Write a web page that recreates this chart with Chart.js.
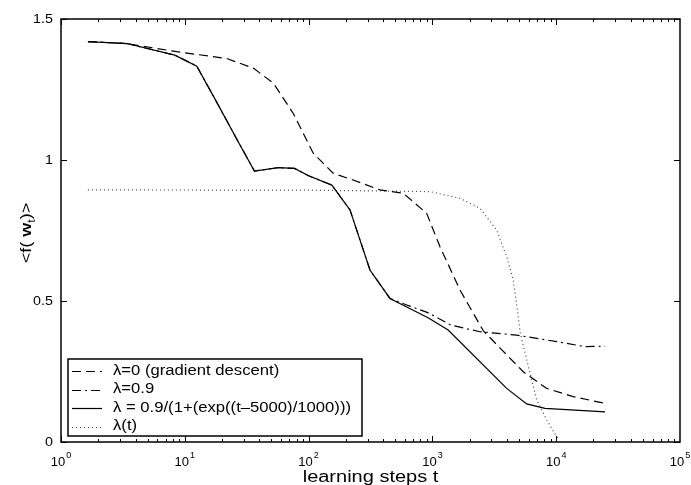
<!DOCTYPE html>
<html lang="en">
<head>
  <meta charset="UTF-8" />
  <title>Learning curves</title>
  <script src="https://cdn.jsdelivr.net/npm/chart.js"></script>
  <style>
    body { margin: 0; background: #fff; }
    canvas { display: block; }
  </style>
</head>
<body>
  <canvas id="curveChart" width="691" height="485"></canvas>

  <script>
    // values (x = learning steps t, y = <f(w_t)>)
    const tGradient = [1.65, 3.4, 8.6, 21.8, 36, 52, 75, 109, 158, 229, 377, 582, 898, 1150, 1670, 2580, 5420, 8380, 13700, 24800];
    const fGradient = [1.42, 1.413, 1.384, 1.36, 1.325, 1.272, 1.166, 1.024, 0.953, 0.929, 0.894, 0.882, 0.811, 0.693, 0.539, 0.394, 0.249, 0.19, 0.161, 0.137];

    const tMomentum = [1.65, 3.4, 8.3, 12.5, 18, 27, 36.5, 57, 77, 100, 154, 216, 313, 454, 620, 930, 1400, 2420, 4800, 10100, 17100, 24800];
    const fMomentum = [1.42, 1.413, 1.372, 1.333, 1.207, 1.065, 0.961, 0.973, 0.970, 0.944, 0.911, 0.823, 0.61, 0.509, 0.486, 0.458, 0.415, 0.391, 0.379, 0.356, 0.338, 0.340];

    const tSchedule = [1.65, 3.4, 8.3, 12.5, 18, 27, 36.5, 57, 77, 100, 154, 216, 313, 454, 930, 1340, 3980, 5780, 8120, 24800];
    const fSchedule = [1.42, 1.413, 1.372, 1.333, 1.207, 1.065, 0.961, 0.973, 0.970, 0.944, 0.911, 0.823, 0.61, 0.509, 0.44, 0.397, 0.19, 0.135, 0.119, 0.107];

    const tLambda = [1.65, 100, 955, 1670, 2420, 3300, 3980, 4500, 4940, 5100, 5960, 6960, 8380, 10100, 10600];
    const fLambda = [0.894, 0.893, 0.888, 0.864, 0.829, 0.752, 0.657, 0.574, 0.444, 0.391, 0.267, 0.149, 0.078, 0.019, 0.008];

    const legendLabels = [
      'λ=0 (gradient descent)',
      'λ=0.9',
      'λ = 0.9/(1+(exp((t–5000)/1000)))',
      'λ(t)'
    ];

    const xTickValues = [1, 10, 100, 1000, 10000, 100000];
    const xTickExponents = ['0', '1', '2', '3', '4', '5'];
    const yTickValues = [0, 0.5, 1, 1.5];
    const yTickLabels = ['0', '0.5', '1', '1.5'];

    const FONT = '"Liberation Sans", Arial, Helvetica, sans-serif';

    const toPoints = (ts, fs) => ts.map((t, i) => ({ x: t, y: fs[i] }));

    // text in the original is a bit wider than the font, so stretch it
    function drawText(ctx, text, x, y, sx, align) {
      ctx.save();
      ctx.translate(x, y);
      ctx.scale(sx, 1);
      ctx.textAlign = align;
      ctx.fillText(text, 0, 0);
      ctx.restore();
    }

    const framePlugin = {
      id: 'frame',
      afterDraw(chart) {
        const { ctx, chartArea: a, scales: { x, y } } = chart;
        ctx.save();
        ctx.strokeStyle = '#000';
        ctx.fillStyle = '#000';
        ctx.setLineDash([]);

        // axis box
        ctx.lineWidth = 1.5;
        ctx.strokeRect(a.left, a.top, a.right - a.left, a.bottom - a.top);

        // x ticks (log major + minor), inward on top and bottom
        ctx.lineWidth = 1;
        ctx.beginPath();
        for (let k = 0; k < 5; k++) {
          for (let m = 1; m <= 9; m++) {
            const px = Math.round(x.getPixelForValue(m * Math.pow(10, k))) + 0.5;
            const len = m === 1 ? 6 : 3;
            ctx.moveTo(px, a.bottom); ctx.lineTo(px, a.bottom - len);
            ctx.moveTo(px, a.top); ctx.lineTo(px, a.top + len);
          }
        }
        // y ticks, inward on left and right
        yTickValues.forEach(v => {
          const py = Math.round(y.getPixelForValue(v)) + 0.5;
          ctx.moveTo(a.left, py); ctx.lineTo(a.left + 6, py);
          ctx.moveTo(a.right, py); ctx.lineTo(a.right - 6, py);
        });
        ctx.stroke();

        // y tick labels
        ctx.font = '13px ' + FONT;
        ctx.textBaseline = 'middle';
        yTickValues.forEach((v, i) => {
          drawText(ctx, yTickLabels[i], a.left - 8, y.getPixelForValue(v), 1.1, 'right');
        });

        // x tick labels: 10 with a raised exponent
        ctx.textBaseline = 'alphabetic';
        xTickValues.forEach((v, i) => {
          const px = x.getPixelForValue(v);
          ctx.font = '13px ' + FONT;
          const wBase = ctx.measureText('10').width;
          ctx.font = '9px ' + FONT;
          const wExp = ctx.measureText(xTickExponents[i]).width;
          const left = px - (wBase + wExp + 1) / 2;
          ctx.font = '13px ' + FONT;
          ctx.textAlign = 'left';
          ctx.fillText('10', left, a.bottom + 24);
          ctx.font = '9px ' + FONT;
          ctx.fillText(xTickExponents[i], left + wBase + 1, a.bottom + 16);
        });

        // x axis title
        ctx.font = '16px ' + FONT;
        drawText(ctx, 'learning steps t', (a.left + a.right) / 2, 482, 1.25, 'center');

        // y axis title: <f( w_t)> with bold w and subscript t, rotated
        ctx.save();
        ctx.translate(31, 233);
        ctx.rotate(-Math.PI / 2);
        ctx.scale(1.2, 1);
        const parts = [
          { s: '<f( ', f: '15px ' + FONT, dy: 0 },
          { s: 'w', f: 'bold 15px ' + FONT, dy: 0 },
          { s: 't', f: '10px ' + FONT, dy: 4 },
          { s: ')>', f: '15px ' + FONT, dy: 0 }
        ];
        let total = 0;
        parts.forEach(p => { ctx.font = p.f; total += ctx.measureText(p.s).width; });
        let cx = -total / 2;
        ctx.textAlign = 'left';
        parts.forEach(p => {
          ctx.font = p.f;
          ctx.fillText(p.s, cx, p.dy);
          cx += ctx.measureText(p.s).width;
        });
        ctx.restore();

        // legend box
        const lx = 68, ly = 359, lw = 294, lh = 77;
        ctx.fillStyle = '#fff';
        ctx.fillRect(lx, ly, lw, lh);
        ctx.lineWidth = 1.5;
        ctx.strokeStyle = '#000';
        ctx.strokeRect(lx, ly, lw, lh);

        const rowY = [371, 389.5, 408, 426.5];
        chart.data.datasets.forEach((ds, i) => {
          const ry = Math.round(rowY[i]) + 0.5;
          ctx.save();
          ctx.strokeStyle = ds.borderColor;
          ctx.lineWidth = ds.borderWidth;
          ctx.setLineDash(ds.borderDash || []);
          ctx.beginPath();
          ctx.moveTo(72, ry);
          ctx.lineTo(102, ry);
          ctx.stroke();
          ctx.restore();
          ctx.fillStyle = '#000';
          ctx.font = '14px ' + FONT;
          ctx.textBaseline = 'middle';
          drawText(ctx, legendLabels[i], 113, rowY[i], 1.19, 'left');
        });

        ctx.restore();
      }
    };

    const lineStyle = (dash, color) => ({
      borderColor: color,
      borderWidth: 1.2,
      borderDash: dash,
      pointRadius: 0,
      tension: 0,
      fill: false
    });

    new Chart(document.getElementById('curveChart').getContext('2d'), {
      type: 'line',
      data: {
        datasets: [
          { label: legendLabels[0], data: toPoints(tGradient, fGradient), ...lineStyle([9, 5], '#000') },
          { label: legendLabels[1], data: toPoints(tMomentum, fMomentum), ...lineStyle([9, 4, 2, 4], '#000') },
          { label: legendLabels[2], data: toPoints(tSchedule, fSchedule), ...lineStyle([], '#000') },
          { label: legendLabels[3], data: toPoints(tLambda, fLambda), ...lineStyle([1, 3], '#444') }
        ]
      },
      options: {
        responsive: false,
        animation: false,
        layout: { padding: { top: 19, right: 11, left: 0, bottom: 0 } },
        plugins: {
          legend: { display: false },
          tooltip: { enabled: false }
        },
        scales: {
          x: {
            type: 'logarithmic',
            min: 1,
            max: 100000,
            grid: { display: false },
            border: { display: false },
            ticks: { display: false },
            afterFit: s => { s.height = 43; }
          },
          y: {
            min: 0,
            max: 1.5,
            grid: { display: false },
            border: { display: false },
            ticks: { display: false },
            afterFit: s => { s.width = 61; }
          }
        }
      },
      plugins: [framePlugin]
    });
  </script>
</body>
</html>
